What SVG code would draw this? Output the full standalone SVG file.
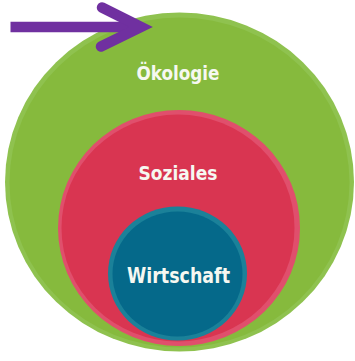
<svg xmlns="http://www.w3.org/2000/svg" width="355" height="361" viewBox="0 0 355 361">
  <style>
    .label { font-family: "DejaVu Sans Condensed", "DejaVu Sans", Roboto, sans-serif; font-weight: bold; fill: #f6f8f1; text-anchor: middle; }
    .arrow { stroke: #7030a0; fill: none; stroke-width: 10.5; }
  </style>
  <rect width="355" height="361" fill="#ffffff"/>

  <!-- outer circle: ecology -->
  <g id="oekologie">
    <ellipse cx="179.5" cy="182" rx="174.5" ry="169.5" fill="#8fc24f"/>
    <ellipse cx="179.5" cy="182.5" rx="170" ry="165" fill="#86ba3d"/>
    <text class="label" x="178" y="80" font-size="19" textLength="83" lengthAdjust="spacingAndGlyphs">Ökologie</text>
  </g>

  <!-- middle circle: social -->
  <g id="soziales">
    <ellipse cx="179" cy="228" rx="121" ry="118" fill="#e04f6c"/>
    <ellipse cx="178" cy="228" rx="116.5" ry="113.5" fill="#d93551"/>
    <text class="label" x="178" y="180" font-size="20" textLength="79" lengthAdjust="spacingAndGlyphs">Soziales</text>
  </g>

  <!-- inner circle: economy -->
  <g id="wirtschaft">
    <ellipse cx="177.5" cy="273.5" rx="69.5" ry="67" fill="#1b8199"/>
    <ellipse cx="177.5" cy="274" rx="65" ry="62.5" fill="#05698a"/>
    <text class="label" x="178.5" y="283" font-size="22" textLength="103" lengthAdjust="spacingAndGlyphs">Wirtschaft</text>
  </g>

  <!-- purple arrow -->
  <g id="connectors">
    <line class="arrow" x1="10.5" y1="27" x2="136" y2="27"/>
    <polyline class="arrow" points="102,7.5 141,27 101,46.5" stroke-linecap="round" stroke-linejoin="miter"/>
  </g>
</svg>
